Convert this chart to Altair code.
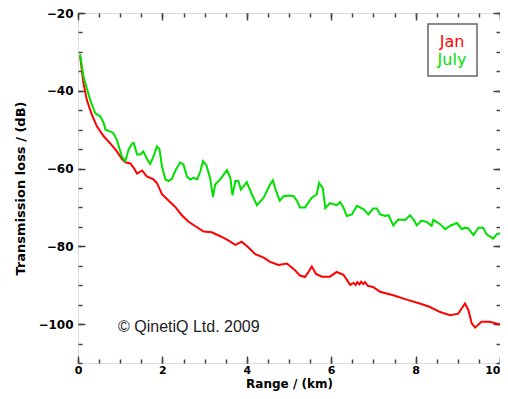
import altair as alt
import pandas as pd

# ---- data ----
july_x = [0.05, 0.13, 0.29, 0.41, 0.53, 0.61, 0.65, 0.77, 0.84, 0.92, 1.04, 1.12, 1.2, 1.28, 1.32,
          1.4, 1.48, 1.55, 1.63, 1.71, 1.79, 1.87, 1.93, 1.99, 2.07, 2.15, 2.23, 2.3, 2.42, 2.5,
          2.58, 2.66, 2.74, 2.82, 2.9, 2.96, 3.04, 3.13, 3.2, 3.25, 3.37, 3.53, 3.61, 3.66, 3.73,
          3.8, 3.86, 4.0, 4.12, 4.24, 4.4, 4.55, 4.62, 4.67, 4.78, 4.87, 4.99, 5.11, 5.19, 5.26,
          5.38, 5.54, 5.66, 5.71, 5.8, 5.86, 5.97, 6.13, 6.21, 6.29, 6.37, 6.49, 6.61, 6.77, 6.88,
          6.99, 7.08, 7.16, 7.28, 7.36, 7.47, 7.59, 7.75, 7.87, 7.95, 8.03, 8.14, 8.26, 8.38, 8.42,
          8.58, 8.7, 8.82, 8.98, 9.1, 9.17, 9.25, 9.37, 9.49, 9.6, 9.68, 9.84, 9.92, 10.0]
july_y = [-30.6, -36.4, -42.4, -45.8, -46.6, -48.3, -50.0, -50.5, -50.9, -52.6, -56.9, -58.1, -55.1, -53.6, -53.4,
          -56.4, -56.4, -55.6, -57.5, -58.8, -56.9, -54.3, -55.0, -59.4, -62.8, -63.2, -62.6, -60.7, -58.4, -59.0,
          -62.0, -62.8, -62.4, -62.8, -60.7, -58.1, -59.1, -62.4, -67.3, -64.1, -62.8, -60.4, -62.4, -66.9, -63.2,
          -63.2, -65.4, -63.5, -66.6, -69.4, -67.5, -64.1, -63.0, -65.0, -68.3, -67.1, -66.9, -67.1, -68.3, -70.0,
          -70.0, -67.5, -66.6, -63.7, -65.0, -70.2, -68.9, -69.4, -68.6, -70.0, -72.2, -71.8, -69.6, -70.5, -71.8,
          -70.3, -70.3, -71.8, -72.2, -72.0, -74.6, -73.1, -73.2, -72.0, -73.1, -74.6, -73.4, -73.7, -74.7, -73.2,
          -74.3, -75.6, -74.7, -74.0, -75.6, -75.2, -75.4, -77.1, -75.2, -75.2, -76.9, -78.0, -76.9, -76.6]

jan_x = [0.05, 0.13, 0.21, 0.33, 0.45, 0.61, 0.77, 0.92, 1.04, 1.12, 1.24, 1.32, 1.4, 1.52, 1.63,
         1.79, 1.87, 1.99, 2.15, 2.3, 2.46, 2.62, 2.82, 2.98, 3.17, 3.37, 3.53, 3.73, 3.88, 4.04,
         4.2, 4.4, 4.55, 4.75, 4.95, 5.11, 5.26, 5.38, 5.46, 5.54, 5.64, 5.78, 5.97, 6.13, 6.29,
         6.45, 6.53, 6.58, 6.62, 6.67, 6.71, 6.76, 6.8, 6.86, 7.0, 7.16, 7.47, 7.79, 8.1, 8.34,
         8.58, 8.82, 9.01, 9.09, 9.17, 9.25, 9.33, 9.41, 9.56, 9.76, 10.0]
jan_y = [-31.1, -38.1, -42.4, -46.2, -49.2, -51.7, -53.6, -55.6, -57.5, -58.4, -58.7, -59.8, -61.3, -60.5, -62.0,
         -62.8, -63.7, -66.6, -68.3, -69.8, -72.0, -73.7, -75.1, -76.2, -76.4, -77.4, -78.3, -79.6, -78.8, -80.3,
         -82.0, -82.9, -84.0, -84.8, -84.4, -85.8, -87.5, -87.9, -86.6, -85.2, -87.1, -87.8, -87.8, -86.6, -87.3,
         -89.9, -89.4, -89.9, -89.2, -89.8, -89.1, -89.7, -89.2, -90.1, -90.5, -91.7, -92.6, -93.7, -94.7, -95.6,
         -96.9, -97.7, -97.3, -96.0, -94.7, -96.4, -99.8, -100.9, -99.4, -99.4, -100.1]

series_names = ["Jan", "July"]
series_colors = ["#ff0000", "#00e000"]

x_major = [0, 2, 4, 6, 8, 10]
x_minor = [i * 0.5 for i in range(21)]
y_major = [-100, -80, -60, -40, -20]
y_minor = [-110 + 5 * i for i in range(19)]

copyright_text = "\u00a9 QinetiQ Ltd. 2009"

df = pd.concat([
    pd.DataFrame({"range": jan_x, "loss": jan_y, "series": "Jan", "order": range(len(jan_x))}),
    pd.DataFrame({"range": july_x, "loss": july_y, "series": "July", "order": range(len(july_x))}),
])

FONT = "DejaVu Sans"
AX = "#444444"
MAJ, MIN = 7, 4
H = 350

xs = alt.Scale(domain=[0, 10], nice=False, zero=False)
ys = alt.Scale(domain=[-110, -20], nice=False, zero=False)


def xaxis(orient, values, size, labels=False, title=None):
    kw = dict(orient=orient, values=values, tickSize=size, offset=-size, domain=False, grid=False,
              labels=labels, ticks=True, tickColor=AX, tickWidth=1.5, labelFlush=False,
              labelFont=FONT, labelFontSize=11, labelFontWeight="bold", labelColor="black",
              labelPadding=1,
              labelAlign=alt.condition("datum.value >= 10", alt.value("right"), alt.value("center")))
    if title:
        kw.update(title=title, titleFont=FONT, titleFontSize=12, titleFontWeight="bold",
                  titleColor="black", titlePadding=3)
    else:
        kw.update(title=None)
    return alt.Axis(**kw)


def yaxis(orient, values, size, labels=False, title=None):
    kw = dict(orient=orient, values=values, tickSize=size, offset=-size, domain=False, grid=False,
              labels=labels, ticks=True, tickColor=AX, tickWidth=1.5, labelFlush=False,
              labelFont=FONT, labelFontSize=12, labelFontWeight="bold", labelColor="black",
              labelPadding=5)
    if title:
        kw.update(title=title, titleFont=FONT, titleFontSize=13, titleFontWeight="bold",
                  titleColor="black", titlePadding=10)
    else:
        kw.update(title=None)
    return alt.Axis(**kw)


base = alt.Chart(df)
color = alt.Color("series:N", scale=alt.Scale(domain=series_names, range=series_colors), legend=None)

lines = base.mark_line(strokeWidth=2, interpolate="linear").encode(
    x=alt.X("range:Q", scale=xs, axis=xaxis("bottom", x_major, MAJ, True, "Range / (km)")),
    y=alt.Y("loss:Q", scale=ys, axis=yaxis("left", y_major, MAJ, True, "Transmission loss / (dB)")),
    color=color,
    detail="series:N",
    order="order:Q",
)

ax2 = base.mark_point(opacity=0, size=1).encode(
    x=alt.X("range:Q", scale=xs, axis=xaxis("bottom", x_minor, MIN)),
    y=alt.Y("loss:Q", scale=ys, axis=yaxis("left", y_minor, MIN)),
)
ax3 = base.mark_point(opacity=0, size=1).encode(
    x=alt.X("range:Q", scale=xs, axis=xaxis("top", x_major, MAJ)),
    y=alt.Y("loss:Q", scale=ys, axis=yaxis("right", y_major, MAJ)),
)
ax4 = base.mark_point(opacity=0, size=1).encode(
    x=alt.X("range:Q", scale=xs, axis=xaxis("top", x_minor, MIN)),
    y=alt.Y("loss:Q", scale=ys, axis=yaxis("right", y_minor, MIN)),
)

legend_df = pd.DataFrame({"series": series_names})
legend_box = alt.Chart(legend_df).transform_filter("datum.series == 'Jan'").mark_rect(
    fill="white", stroke="#666666", strokeWidth=1.5
).encode(x=alt.value(350), x2=alt.value(399), y=alt.value(11), y2=alt.value(63))

legend_texts = []
for name, ypos in zip(series_names, [29, 47]):
    legend_texts.append(
        alt.Chart(legend_df).transform_filter(f"datum.series == '{name}'").mark_text(
            font=FONT, fontSize=16, align="center", baseline="middle"
        ).encode(x=alt.value(374), y=alt.value(ypos), text="series:N", color=color)
    )

copy_df = pd.DataFrame({"t": [copyright_text]})
copy_text = alt.Chart(copy_df).mark_text(
    font="Liberation Sans", fontSize=16, align="left", baseline="middle", color="#222222"
).encode(x=alt.value(40), y=alt.value(314), text="t:N")

chart = alt.layer(lines, ax2, ax3, ax4, legend_box, *legend_texts, copy_text).resolve_axis(
    x="independent", y="independent"
).resolve_scale(y="shared", x="shared").properties(
    width=422, height=H, autosize=alt.AutoSizeParams(type="none"),
    padding={"left": 70, "top": 5, "right": 0, "bottom": 28},
).configure_view(stroke=AX, strokeWidth=1.5).configure(background="white")

chart.save("out.html", embed_options={"renderer": "svg", "actions": False})
